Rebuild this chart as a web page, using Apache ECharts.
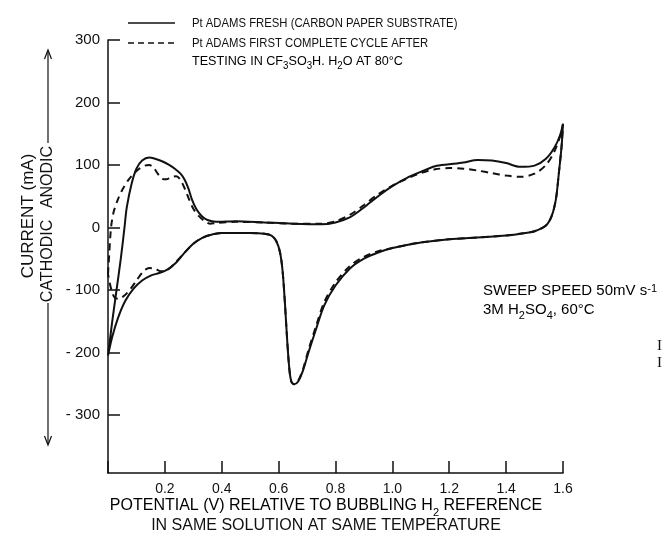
<!DOCTYPE html>
<html><head><meta charset="utf-8">
<script src="https://cdn.jsdelivr.net/npm/echarts@6/dist/echarts.min.js"></script>
<style>html,body{margin:0;padding:0;background:#fff}#c{width:665px;height:546px}</style>
</head><body><div id="c"></div>
<script>
// ---- data (potential V, current mA) ----
const xTicks = [0.2, 0.4, 0.6, 0.8, 1.0, 1.2, 1.4, 1.6];
const yTicks = [-300, -200, -100, 0, 100, 200, 300];
const seriesNames = ['Pt ADAMS FRESH (CARBON PAPER SUBSTRATE)', 'Pt ADAMS FIRST COMPLETE CYCLE AFTER TESTING IN CF3SO3H. H2O AT 80°C'];

// fresh electrode: anodic sweep 0 -> 1.6 V, then cathodic sweep back to 0 V
const freshAnodic = [
  [0.000,-205],[0.015,-150],[0.030,-100],[0.045,-50],[0.058,0],[0.066,32],[0.083,70],[0.100,94],
  [0.120,107],[0.145,112],[0.165,110],[0.190,106],[0.215,100],[0.235,94],[0.255,86],[0.270,76],
  [0.283,62],[0.295,45],[0.310,30],[0.330,18],[0.350,12],[0.380,9],[0.450,10],[0.550,8],[0.650,6],
  [0.750,5],[0.800,8],[0.850,16],[0.900,32],[0.950,50],[1.000,66],[1.050,79],[1.100,89],[1.150,98],
  [1.200,101],[1.250,104],[1.300,108],[1.350,107],[1.400,103],[1.450,97],[1.500,99],[1.540,110],
  [1.570,128],[1.590,148],[1.600,166]
];
const freshCathodic = [
  [1.595,130],[1.585,85],[1.575,45],[1.560,18],[1.540,3],[1.500,-6],[1.450,-10],[1.400,-13],
  [1.300,-16],[1.200,-19],[1.100,-24],[1.050,-28],[1.000,-33],[0.950,-40],[0.900,-50],[0.850,-66],
  [0.800,-93],[0.760,-125],[0.730,-165],[0.705,-200],[0.685,-230],[0.668,-247],[0.655,-251],
  [0.645,-247],[0.638,-228],[0.630,-180],[0.622,-120],[0.614,-70],[0.605,-40],[0.592,-22],[0.575,-13],[0.550,-10],
  [0.500,-9],[0.400,-9],[0.360,-12],[0.330,-17],[0.300,-26],[0.270,-40],[0.240,-56],[0.210,-67],
  [0.180,-73],[0.150,-77],[0.120,-85],[0.090,-98],[0.060,-118],[0.035,-145],[0.015,-175],[0.000,-205]
];
// after testing: first complete cycle
const cycledAnodic = [
  [0.000,-75],[0.004,-45],[0.008,-15],[0.012,5],[0.020,25],[0.035,45],[0.050,60],[0.070,75],
  [0.090,86],[0.110,94],[0.130,99],[0.145,100],[0.160,96],[0.175,86],[0.190,78],[0.205,77],
  [0.220,80],[0.240,82],[0.255,76],[0.270,62],[0.285,45],[0.300,30],[0.320,18],[0.340,10],
  [0.360,6],[0.380,7],[0.450,9],[0.550,8],[0.650,6],[0.750,6],[0.800,10],[0.850,20],[0.900,36],
  [0.950,53],[1.000,67],[1.050,78],[1.100,87],[1.150,93],[1.200,95],[1.250,94],[1.300,91],
  [1.350,87],[1.400,83],[1.450,81],[1.500,86],[1.540,100],[1.570,122],[1.590,146],[1.600,165]
];
const cycledCathodic = [
  [1.595,130],[1.585,85],[1.575,45],[1.560,18],[1.540,3],[1.500,-6],[1.450,-10],[1.400,-13],
  [1.300,-16],[1.200,-19],[1.100,-24],[1.050,-28],[1.000,-33],[0.950,-38],[0.900,-47],[0.850,-62],
  [0.800,-88],[0.760,-120],[0.730,-160],[0.705,-196],[0.685,-228],[0.668,-246],[0.655,-251],
  [0.645,-247],[0.638,-228],[0.630,-180],[0.622,-120],[0.614,-70],[0.605,-40],[0.592,-22],[0.575,-13],[0.550,-10],
  [0.500,-9],[0.400,-9],[0.360,-12],[0.330,-17],[0.300,-26],[0.270,-40],[0.240,-55],[0.220,-64],
  [0.200,-70],[0.185,-70],[0.165,-66],[0.145,-65],[0.125,-70],[0.100,-85],[0.080,-98],[0.060,-108],
  [0.040,-114],[0.025,-113],[0.012,-100],[0.000,-75]
];

const FONT = '"Liberation Sans", Arial, sans-serif';
const INK = '#111';
const chart = echarts.init(document.getElementById('c'), null, {renderer: 'canvas'});

function richStyle(size, subSize) {
  const ss = subSize || Math.round(size * 0.7);
  return {
    n: {fontSize: size, fontFamily: FONT, color: INK, verticalAlign: 'bottom', padding: [0, 0, Math.round(size * 0.25), 0]},
    s: {fontSize: ss, fontFamily: FONT, color: INK, verticalAlign: 'bottom'},
    p: {fontSize: ss, fontFamily: FONT, color: INK, verticalAlign: 'top'}
  };
}

chart.setOption({
  animation: false,
  backgroundColor: '#fff',
  grid: {left: 108, right: 102, top: 40, bottom: 73},
  xAxis: {
    type: 'value', min: 0, max: 1.6, interval: 0.2,
    axisLine: {show: true, onZero: false, lineStyle: {color: INK, width: 1.5}},
    axisTick: {show: true, inside: true, length: 12, lineStyle: {color: INK, width: 1.5}},
    axisLabel: {formatter: v => (v === 0 ? '' : v.toFixed(1)), margin: 9, fontSize: 14, color: INK, fontFamily: FONT},
    splitLine: {show: false}
  },
  yAxis: {
    type: 'value', min: -393, max: 300,
    axisLine: {show: true, onZero: false, lineStyle: {color: INK, width: 1.5}},
    axisTick: {show: true, inside: true, length: 12, customValues: yTicks, lineStyle: {color: INK, width: 1.5}},
    axisLabel: {customValues: yTicks, formatter: v => (v < 0 ? '- ' + Math.abs(v) : String(v)), margin: 8, fontSize: 15, color: INK, fontFamily: FONT},
    splitLine: {show: false}
  },
  series: [
    {name: seriesNames[1], type: 'line', data: cycledAnodic.concat(cycledCathodic), symbol: 'none', smooth: 0.3,
     lineStyle: {color: INK, width: 2, type: [7, 5]}, z: 2},
    {name: seriesNames[0], type: 'line', data: freshAnodic.concat(freshCathodic), symbol: 'none', smooth: 0.3,
     lineStyle: {color: INK, width: 2}, z: 3}
  ],
  graphic: [
    // legend
    {type: 'line', shape: {x1: 128, y1: 23, x2: 175, y2: 23}, style: {stroke: INK, lineWidth: 1.5}},
    {type: 'text', x: 192, y: 23, scaleX: 0.87, style: {text: 'Pt ADAMS FRESH (CARBON PAPER SUBSTRATE)', font: '13px ' + FONT, fill: INK, verticalAlign: 'middle'}},
    {type: 'line', shape: {x1: 128, y1: 43, x2: 175, y2: 43}, style: {stroke: INK, lineWidth: 1.5, lineDash: [6, 4]}},
    {type: 'text', x: 192, y: 43, scaleX: 0.87, style: {text: 'Pt ADAMS FIRST COMPLETE CYCLE AFTER', font: '13px ' + FONT, fill: INK, verticalAlign: 'middle'}},
    {type: 'text', x: 192, y: 63, scaleX: 0.97, style: {text: '{n|TESTING IN CF}{s|3}{n|SO}{s|3}{n|H. H}{s|2}{n|O AT 80°C}', rich: richStyle(13, 10), verticalAlign: 'middle'}},
    // y-axis titles
    {type: 'text', x: 28, y: 216, rotation: Math.PI / 2, style: {text: 'CURRENT (mA)', font: '17px ' + FONT, fill: INK, align: 'center', verticalAlign: 'middle'}},
    {type: 'text', x: 48, y: 177, rotation: Math.PI / 2, style: {text: 'ANODIC', font: '16px ' + FONT, fill: INK, align: 'center', verticalAlign: 'middle'}},
    {type: 'text', x: 48, y: 261, rotation: Math.PI / 2, style: {text: 'CATHODIC', font: '16px ' + FONT, fill: INK, align: 'center', verticalAlign: 'middle'}},
    {type: 'line', shape: {x1: 48, y1: 143, x2: 48, y2: 51}, style: {stroke: INK, lineWidth: 1.2}},
    {type: 'polyline', shape: {points: [[44.5, 59], [48, 50], [51.5, 59]]}, style: {stroke: INK, lineWidth: 1.2, fill: null}},
    {type: 'line', shape: {x1: 48, y1: 303, x2: 48, y2: 444}, style: {stroke: INK, lineWidth: 1.2}},
    {type: 'polyline', shape: {points: [[44.5, 436], [48, 445], [51.5, 436]]}, style: {stroke: INK, lineWidth: 1.2, fill: null}},
    // x-axis title
    {type: 'text', x: 326, y: 508, style: {text: '{n|POTENTIAL (V) RELATIVE TO BUBBLING H}{s|2}{n| REFERENCE}', rich: richStyle(16), align: 'center', verticalAlign: 'middle'}},
    {type: 'text', x: 326, y: 526, style: {text: 'IN SAME SOLUTION AT SAME TEMPERATURE', font: '16px ' + FONT, fill: INK, align: 'center', verticalAlign: 'middle'}},
    // annotation
    {type: 'text', x: 483, y: 293, style: {text: '{n|SWEEP SPEED 50mV s}{p|-1}', rich: richStyle(15), verticalAlign: 'middle'}},
    {type: 'text', x: 483, y: 312, style: {text: '{n|3M H}{s|2}{n|SO}{s|4}{n|, 60°C}', rich: richStyle(15), verticalAlign: 'middle'}},
    // cropped glyphs at the right page edge
    {type: 'text', x: 657, y: 346, style: {text: 'I', font: '15px "Liberation Serif", serif', fill: INK, verticalAlign: 'middle'}},
    {type: 'text', x: 657, y: 363, style: {text: 'I', font: '15px "Liberation Serif", serif', fill: INK, verticalAlign: 'middle'}}
  ]
});
</script>
</body></html>
